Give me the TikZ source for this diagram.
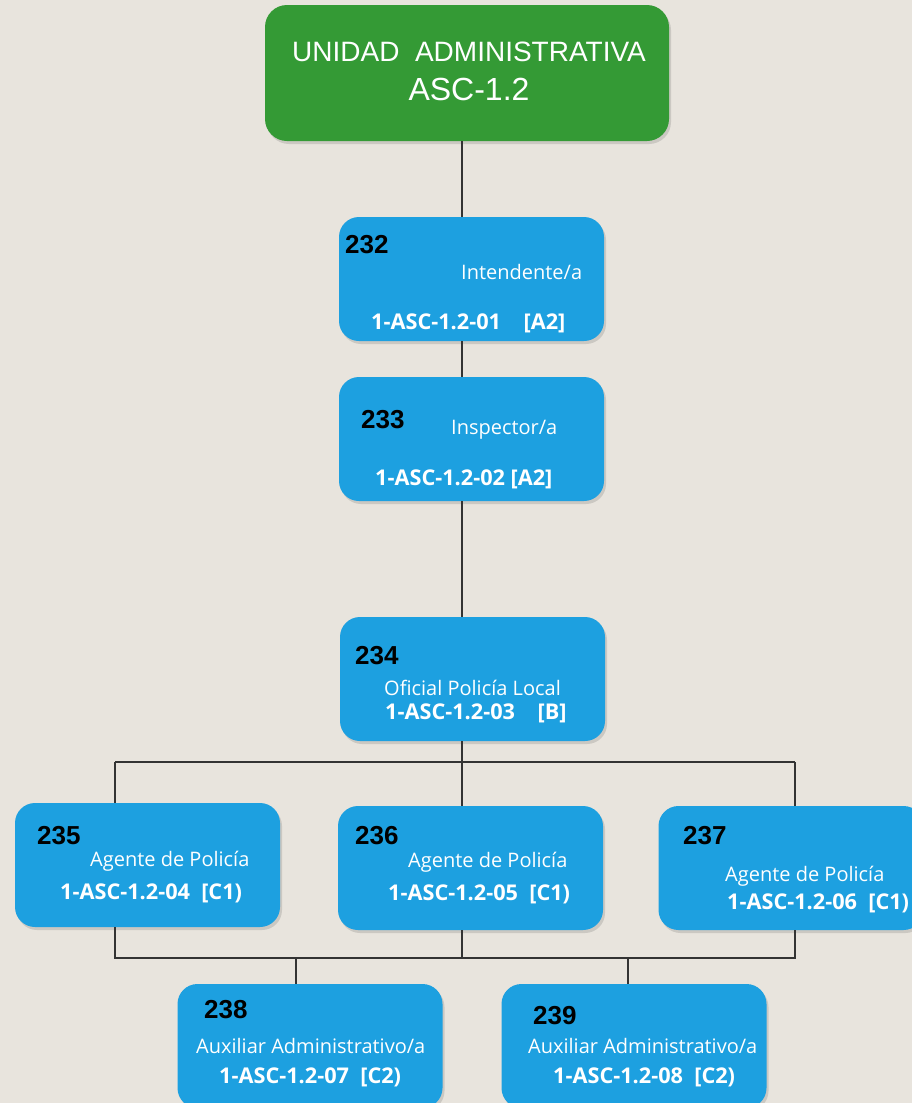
\documentclass[tikz,border=0pt]{standalone}
\usepackage{fontspec}
\usetikzlibrary{shadows}
\newfontfamily\labfont{Open Sans}
\newfontfamily\numfont{Liberation Sans}
\definecolor{bg}{HTML}{E8E4DD}
\definecolor{grn}{HTML}{349A35}
\definecolor{blu}{HTML}{1DA0E0}
\definecolor{ln}{HTML}{333333}
\tikzset{
  x=1pt, y=-1pt,
  box/.style={rectangle, rounded corners=20pt, fill=blu, draw=none, inner sep=0pt,
    minimum width=265pt, minimum height=124pt,
    drop shadow={opacity=0.22, shadow xshift=2pt, shadow yshift=-3pt, fill=black!60}},
  gbox/.style={rectangle, rounded corners=22pt, fill=grn, draw=none, inner sep=0pt,
    minimum width=404pt, minimum height=136pt,
    drop shadow={opacity=0.22, shadow xshift=2pt, shadow yshift=-3pt, fill=black!60}},
  num/.style={anchor=west, inner sep=0pt, font=\numfont\bfseries\fontsize{26}{30}\selectfont, text=black},
  lab/.style={anchor=west, inner sep=0pt, font=\labfont\fontsize{20}{24}\selectfont, text=white},
  code/.style={anchor=west, inner sep=0pt, font=\labfont\bfseries\fontsize{21.7}{26}\selectfont, text=white},
  conn/.style={draw=ln, line width=1.3pt},
}
\begin{document}
\begin{tikzpicture}
\fill[bg] (0,0) rectangle (912,1103);
\useasboundingbox (0,0) rectangle (912,1103);
% boxes
\node[gbox] (top) at (467,73) {};
\node[box] (b232) at (471.5,279) {};
\node[box] (b233) at (471.5,439) {};
\node[box] (b234) at (472.5,679) {};
\node[box] (b235) at (147.5,865) {};
\node[box] (b236) at (470.5,868) {};
\node[box] (b237) at (791,868) {};
\node[box] (b238) at (310,1046) {};
\node[box] (b239) at (634,1046) {};
% title
\node[inner sep=0pt, text=white, font=\numfont\fontsize{28}{32}\selectfont] (t1) at (469,52) {UNIDAD\ \ ADMINISTRATIVA};
\node[inner sep=0pt, text=white, font=\numfont\fontsize{32}{36}\selectfont] (t2) at (469,89) {ASC-1.2};
% 232
\node[num] (n232) at (345,245) {232};
\node[lab] (l232) at (461,272) {Intendente/a};
\node[code] (c232) at (371,323) {1-ASC-1.2-01\ \ \ \ [A2]};
% 233
\node[num] (n233) at (361,420) {233};
\node[lab] (l233) at (451,430) {Inspector/a};
\node[code] (c233) at (375,479) {1-ASC-1.2-02 [A2]};
% 234
\node[num] (n234) at (355,656) {234};
\node[lab] (l234) at (384,688) {Oficial Policía Local};
\node[code] (c234) at (385,713) {1-ASC-1.2-03\ \ \ \ [B]};
% 235
\node[num] (n235) at (37,836) {235};
\node[lab] (l235) at (90,861) {Agente de Policía};
\node[code] (c235) at (60,893) {1-ASC-1.2-04\ \ [C1)};
% 236
\node[num] (n236) at (355,836) {236};
\node[lab] (l236) at (408,862) {Agente de Policía};
\node[code] (c236) at (388,894) {1-ASC-1.2-05\ \ [C1)};
% 237
\node[num] (n237) at (683,836) {237};
\node[lab] (l237) at (725,876) {Agente de Policía};
\node[code] (c237) at (727,903) {1-ASC-1.2-06\ \ [C1)};
% 238
\node[num] (n238) at (204,1010) {238};
\node[lab] (l238) at (196,1046) {Auxiliar Administrativo/a};
\node[code] (c238) at (219,1077) {1-ASC-1.2-07\ \ [C2)};
% 239
\node[num] (n239) at (533,1016) {239};
\node[lab] (l239) at (528,1046) {Auxiliar Administrativo/a};
\node[code] (c239) at (553,1077) {1-ASC-1.2-08\ \ [C2)};
% connectors
\coordinate (jA) at (462,762);
\coordinate (jL) at (115,762);
\coordinate (jR) at (795,762);
\coordinate (kA) at (462,958);
\coordinate (kL) at (115,958);
\coordinate (kR) at (795,958);
\coordinate (k38) at (296,958);
\coordinate (k39) at (628,958);
\draw[conn] (top.south -| jA) -- (b232.north -| jA);
\draw[conn] (b232.south -| jA) -- (b233.north -| jA);
\draw[conn] (b233.south -| jA) -- (b234.north -| jA);
\draw[conn] (b234.south -| jA) -- (b236.north -| jA);
\draw[conn] (jL) -- (jR);
\draw[conn] (jL) -- (b235.north -| jL);
\draw[conn] (jR) -- (b237.north -| jR);
\draw[conn] (b235.south -| kL) -- (kL) -- (kR) -- (b237.south -| kR);
\draw[conn] (b236.south -| kA) -- (kA);
\draw[conn] (k38) -- (b238.north -| k38);
\draw[conn] (k39) -- (b239.north -| k39);
\end{tikzpicture}
\end{document}
